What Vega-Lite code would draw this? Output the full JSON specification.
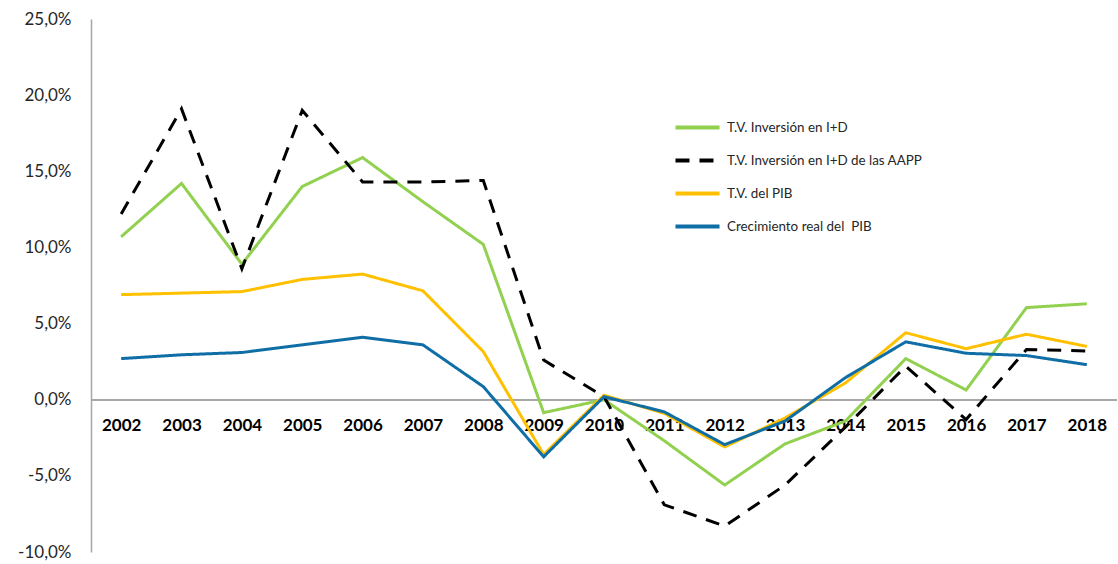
{
  "$schema": "https://vega.github.io/schema/vega-lite/v6.json",
  "width": 1026,
  "height": 533,
  "autosize": {"type": "none"},
  "padding": {"left": 91, "top": 19, "right": 1, "bottom": 12},
  "background": "white",
  "config": {"view": {"stroke": null}, "font": "Lato"},
  "data": {"values": [
    {"year": "2002", "serie": "T.V. Inversión en I+D", "v": 10.7},
    {"year": "2003", "serie": "T.V. Inversión en I+D", "v": 14.2},
    {"year": "2004", "serie": "T.V. Inversión en I+D", "v": 8.9},
    {"year": "2005", "serie": "T.V. Inversión en I+D", "v": 14.0},
    {"year": "2006", "serie": "T.V. Inversión en I+D", "v": 15.9},
    {"year": "2007", "serie": "T.V. Inversión en I+D", "v": 13.0},
    {"year": "2008", "serie": "T.V. Inversión en I+D", "v": 10.2},
    {"year": "2009", "serie": "T.V. Inversión en I+D", "v": -0.85},
    {"year": "2010", "serie": "T.V. Inversión en I+D", "v": 0.0},
    {"year": "2011", "serie": "T.V. Inversión en I+D", "v": -2.7},
    {"year": "2012", "serie": "T.V. Inversión en I+D", "v": -5.6},
    {"year": "2013", "serie": "T.V. Inversión en I+D", "v": -2.9},
    {"year": "2014", "serie": "T.V. Inversión en I+D", "v": -1.4},
    {"year": "2015", "serie": "T.V. Inversión en I+D", "v": 2.7},
    {"year": "2016", "serie": "T.V. Inversión en I+D", "v": 0.64},
    {"year": "2017", "serie": "T.V. Inversión en I+D", "v": 6.05},
    {"year": "2018", "serie": "T.V. Inversión en I+D", "v": 6.3},
    {"year": "2002", "serie": "T.V. Inversión en I+D de las AAPP", "v": 12.2},
    {"year": "2003", "serie": "T.V. Inversión en I+D de las AAPP", "v": 19.1},
    {"year": "2004", "serie": "T.V. Inversión en I+D de las AAPP", "v": 8.6},
    {"year": "2005", "serie": "T.V. Inversión en I+D de las AAPP", "v": 19.0},
    {"year": "2006", "serie": "T.V. Inversión en I+D de las AAPP", "v": 14.3},
    {"year": "2007", "serie": "T.V. Inversión en I+D de las AAPP", "v": 14.3},
    {"year": "2008", "serie": "T.V. Inversión en I+D de las AAPP", "v": 14.4},
    {"year": "2009", "serie": "T.V. Inversión en I+D de las AAPP", "v": 2.6},
    {"year": "2010", "serie": "T.V. Inversión en I+D de las AAPP", "v": 0.2},
    {"year": "2011", "serie": "T.V. Inversión en I+D de las AAPP", "v": -6.9},
    {"year": "2012", "serie": "T.V. Inversión en I+D de las AAPP", "v": -8.3},
    {"year": "2013", "serie": "T.V. Inversión en I+D de las AAPP", "v": -5.6},
    {"year": "2014", "serie": "T.V. Inversión en I+D de las AAPP", "v": -1.8},
    {"year": "2015", "serie": "T.V. Inversión en I+D de las AAPP", "v": 2.2},
    {"year": "2016", "serie": "T.V. Inversión en I+D de las AAPP", "v": -1.3},
    {"year": "2017", "serie": "T.V. Inversión en I+D de las AAPP", "v": 3.3},
    {"year": "2018", "serie": "T.V. Inversión en I+D de las AAPP", "v": 3.2},
    {"year": "2002", "serie": "T.V. del PIB", "v": 6.9},
    {"year": "2003", "serie": "T.V. del PIB", "v": 7.0},
    {"year": "2004", "serie": "T.V. del PIB", "v": 7.1},
    {"year": "2005", "serie": "T.V. del PIB", "v": 7.9},
    {"year": "2006", "serie": "T.V. del PIB", "v": 8.25},
    {"year": "2007", "serie": "T.V. del PIB", "v": 7.15},
    {"year": "2008", "serie": "T.V. del PIB", "v": 3.16},
    {"year": "2009", "serie": "T.V. del PIB", "v": -3.6},
    {"year": "2010", "serie": "T.V. del PIB", "v": 0.3},
    {"year": "2011", "serie": "T.V. del PIB", "v": -0.9},
    {"year": "2012", "serie": "T.V. del PIB", "v": -3.1},
    {"year": "2013", "serie": "T.V. del PIB", "v": -1.2},
    {"year": "2014", "serie": "T.V. del PIB", "v": 1.1},
    {"year": "2015", "serie": "T.V. del PIB", "v": 4.4},
    {"year": "2016", "serie": "T.V. del PIB", "v": 3.35},
    {"year": "2017", "serie": "T.V. del PIB", "v": 4.3},
    {"year": "2018", "serie": "T.V. del PIB", "v": 3.5},
    {"year": "2002", "serie": "Crecimiento real del  PIB", "v": 2.7},
    {"year": "2003", "serie": "Crecimiento real del  PIB", "v": 2.95},
    {"year": "2004", "serie": "Crecimiento real del  PIB", "v": 3.1},
    {"year": "2005", "serie": "Crecimiento real del  PIB", "v": 3.6},
    {"year": "2006", "serie": "Crecimiento real del  PIB", "v": 4.1},
    {"year": "2007", "serie": "Crecimiento real del  PIB", "v": 3.6},
    {"year": "2008", "serie": "Crecimiento real del  PIB", "v": 0.86},
    {"year": "2009", "serie": "Crecimiento real del  PIB", "v": -3.75},
    {"year": "2010", "serie": "Crecimiento real del  PIB", "v": 0.2},
    {"year": "2011", "serie": "Crecimiento real del  PIB", "v": -0.8},
    {"year": "2012", "serie": "Crecimiento real del  PIB", "v": -2.95},
    {"year": "2013", "serie": "Crecimiento real del  PIB", "v": -1.4},
    {"year": "2014", "serie": "Crecimiento real del  PIB", "v": 1.45},
    {"year": "2015", "serie": "Crecimiento real del  PIB", "v": 3.8},
    {"year": "2016", "serie": "Crecimiento real del  PIB", "v": 3.05},
    {"year": "2017", "serie": "Crecimiento real del  PIB", "v": 2.9},
    {"year": "2018", "serie": "Crecimiento real del  PIB", "v": 2.3}
  ]},
  "encoding": {
    "x": {
      "field": "year", "type": "ordinal", "title": null,
      "axis": {
        "domain": false, "ticks": false, "labelAngle": 0,
        "labelFont": "Lato", "labelFontSize": 17, "labelFontWeight": "bold",
        "labelColor": "#000000", "offset": -153, "labelPadding": 18
      }
    },
    "y": {
      "field": "v", "type": "quantitative", "title": null,
      "scale": {"domain": [-10, 25], "nice": false, "zero": false},
      "axis": {
        "values": [-10, -5, 0, 5, 10, 15, 20, 25],
        "grid": false, "ticks": false,
        "domainColor": "#A6A6A6", "domainWidth": 1.5,
        "labelFont": "Lato", "labelFontSize": 17, "labelColor": "#262626",
        "labelPadding": 20,
        "labelExpr": "replace(replace(format(datum.value, '.1f'), '.', ','), '−', '-') + '%'"
      }
    }
  },
  "layer": [
    {
      "mark": {"type": "rule", "color": "#A6A6A6", "strokeWidth": 1.2},
      "encoding": {"y": {"datum": 0}, "x": null}
    },
    {
      "mark": {"type": "line", "strokeWidth": 3},
      "encoding": {
        "color": {
          "field": "serie", "type": "nominal", "title": null,
          "scale": {
            "domain": ["T.V. Inversión en I+D", "T.V. Inversión en I+D de las AAPP", "T.V. del PIB", "Crecimiento real del  PIB"],
            "range": ["#92D050", "#000000", "#FFC000", "#0F6EA6"]
          },
          "legend": {
            "orient": "none", "legendX": 582, "legendY": 84,
            "symbolType": "stroke", "symbolSize": 1940, "symbolStrokeWidth": 4,
            "labelFont": "Lato", "labelFontSize": 13.4, "labelColor": "#262626",
            "labelLimit": 400,
            "labelExpr": "replace(datum.label, '  ', '\u00a0 ')",
            "rowPadding": 0, "labelOffset": 5
          }
        },
        "strokeDash": {
          "field": "serie", "type": "nominal", "title": null,
          "scale": {
            "domain": ["T.V. Inversión en I+D", "T.V. Inversión en I+D de las AAPP", "T.V. del PIB", "Crecimiento real del  PIB"],
            "range": [[1, 0], [14, 10], [1, 0], [1, 0]]
          }
        }
      }
    }
  ]
}
